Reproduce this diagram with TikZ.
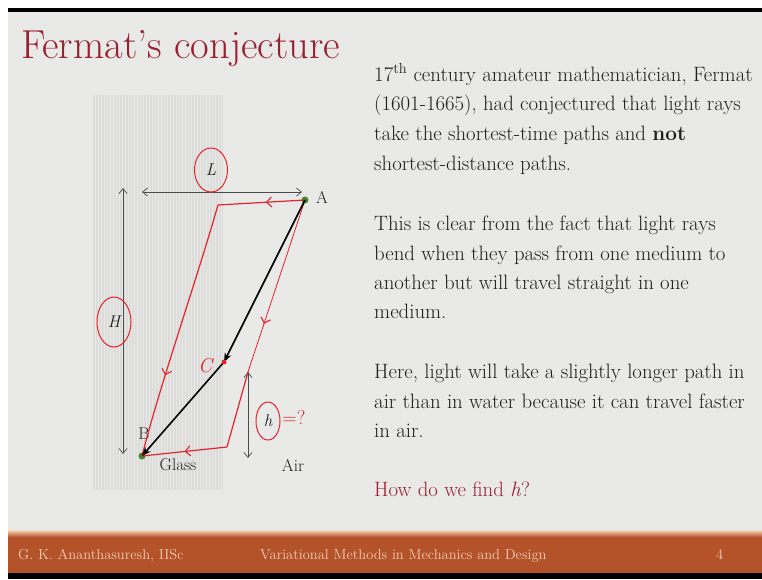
\documentclass[tikz,border=0pt]{standalone}
\usetikzlibrary{arrows.meta,decorations.markings,shapes.geometric}
\definecolor{bg}{HTML}{E9EAE7}
\definecolor{glassc}{HTML}{DCDDDB}
\definecolor{stripe}{HTML}{E8E8E6}
\definecolor{titlered}{HTML}{9A1F2E}
\definecolor{pen}{HTML}{E3242B}
\definecolor{dotg}{HTML}{3E8A2E}
\definecolor{foot}{HTML}{B4532A}
\definecolor{peach}{HTML}{F6D9B8}
\definecolor{foottext}{HTML}{F1CDB6}
\definecolor{ink}{HTML}{1E1E1E}
\begin{document}
\begin{tikzpicture}[x=1pt,y=-1pt,
  body/.style={anchor=base west,inner sep=0pt,font=\fontsize{20.8}{24}\selectfont,text=ink},
  lbl/.style={inner sep=0pt,font=\fontsize{17}{19}\selectfont,text=ink},
  dim/.style={draw=ink!80,line width=0.7pt,{Straight Barb[length=5pt,width=8pt]}-{Straight Barb[length=5pt,width=8pt]}},
  ray/.style={draw=black,line width=1.6pt,-{Stealth[length=9pt,width=7pt]}},
  redpen/.style={draw=pen,line width=1.2pt},
  thinpen/.style={draw=pen,line width=0.8pt},
  mk/.style={postaction={decorate,decoration={markings,mark=at position #1 with {\arrow[pen,line width=1.1pt]{Straight Barb[length=5pt,width=10pt]}}}}},
  dot/.style={circle,fill=dotg,inner sep=0pt,minimum size=7pt},
  ring/.style={draw=pen,line width=1pt,ellipse,inner sep=0pt},
  foottxt/.style={anchor=base west,inner sep=0pt,font=\fontsize{14.5}{16}\selectfont,text=foottext}
]
\useasboundingbox (0,0) rectangle (762,579);
% slide background
\fill[white] (0,0) rectangle (762,579);
\fill[bg] (8,12) rectangle (762,533);
\fill[black] (8,8) rectangle (762,12);
\shade[top color=peach,bottom color=foot] (8,530) rectangle (762,537);
\fill[foot] (8,537) rectangle (762,573);
\fill[black] (8,573) rectangle (762,579);
% title
\node[anchor=base west,inner sep=0pt,font=\fontsize{40.5}{42}\selectfont,text=titlered] (title) at (21,58) {Fermat's conjecture};
% glass block
\fill[glassc] (93,95) rectangle (223,490);
\foreach \x in {95,98,...,221} \draw[stripe,line width=0.8pt] (\x,95) -- (\x,490);
% points
\node[dot] (A) at (305,200) {};
\node[dot] (B) at (142,456) {};
\coordinate (C) at (224,362);
\node[lbl,anchor=west] (Alab) at (316,197) {A};
\node[lbl] (Blab) at (144,434) {B};
\node[lbl] (glass) at (178,465) {Glass};
\node[lbl] (air) at (293,465) {Air};
% dimensions
\coordinate (Ll) at (142,192);
\coordinate (Lr) at (302,192);
\draw[dim] (Ll) -- (Lr);
\coordinate (Ht) at (123,188);
\coordinate (Hb) at (123,454);
\draw[dim] (Ht) -- (Hb);
\coordinate (ht) at (248,372);
\coordinate (hb) at (248,458);
\draw[dim] (ht) -- (hb);
% red path 1 (through glass mostly)
\coordinate (P1) at (218,205);
\draw[redpen,mk=0.45] (A.center) -- (P1);
\draw[redpen,mk=0.68] (P1) .. controls (195,285) and (160,385) .. (B.center);
% red path 2 (through air mostly)
\coordinate (Q2) at (227,447);
\draw[thinpen,mk=0.72] (A.center) -- (ht);
\draw[redpen] (ht) -- (Q2);
\draw[redpen,mk=0.5] (Q2) -- (B.center);
% black refracted ray
\draw[ray] (A.center) -- (C);
\draw[ray] (C) -- (B.center);
\fill[pen] (C) circle (2.5pt);
\node[inner sep=0pt,text=pen,font=\fontsize{20}{22}\selectfont\itshape] (Clab) at (205,366) {C};
% circled labels
\node[ring,minimum width=33pt,minimum height=44pt] (Lc) at (211,170) {};
\node[inner sep=0pt,font=\fontsize{17}{18}\selectfont\itshape,text=ink] (L) at (Lc) {L};
\node[ring,minimum width=34pt,minimum height=50pt] (Hc) at (114,322) {};
\node[inner sep=0pt,font=\fontsize{17}{18}\selectfont\itshape,text=ink] (H) at (Hc) {H};
\node[ring,minimum width=24pt,minimum height=38pt] (hc) at (268,421) {};
\node[inner sep=0pt,font=\fontsize{17}{18}\selectfont\itshape,text=ink] (h) at (hc) {h};
\node[inner sep=0pt,text=pen,font=\fontsize{20}{22}\selectfont] (eq) at (294,417) {=?};
% right text
\node[body] (t1) at (374,81) {17\textsuperscript{th} century amateur mathematician, Fermat};
\node[body] (t2) at (374,110) {(1601-1665), had conjectured that light rays};
\node[body] (t3) at (374,140) {take the shortest-time paths and \textbf{not}};
\node[body] (t4) at (374,170) {shortest-distance paths.};
\node[body] (t5) at (374,230) {This is clear from the fact that light rays};
\node[body] (t6) at (374,260) {bend when they pass from one medium to};
\node[body] (t7) at (374,289) {another but will travel straight in one};
\node[body] (t8) at (374,318) {medium.};
\node[body] (t9) at (374,378) {Here, light will take a slightly longer path in};
\node[body] (t10) at (374,408) {air than in water because it can travel faster};
\node[body] (t11) at (374,437) {in air.};
\node[body,text=titlered] (t12) at (374,496) {How do we find \textit{h}?};
% footer
\node[foottxt] (f1) at (18,559) {G. K. Ananthasuresh, IISc};
\node[foottxt] (f2) at (260,559) {Variational Methods in Mechanics and Design};
\node[foottxt] (f3) at (716,559) {4};
\end{tikzpicture}
\end{document}
